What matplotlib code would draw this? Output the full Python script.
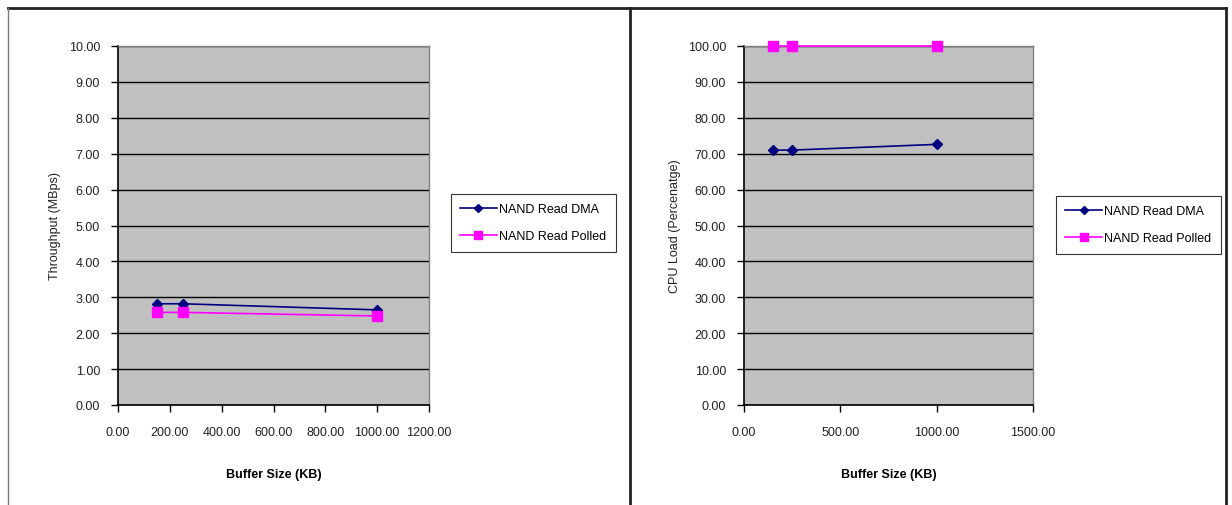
import matplotlib.pyplot as plt
from matplotlib.lines import Line2D

# ==============================
# Data
# ==============================

buffer_kb = [150, 250, 1000]

thr_dma = [2.82, 2.82, 2.65]
thr_polled = [2.58, 2.58, 2.48]

cpu_dma = [71.0, 71.0, 72.6]
cpu_polled = [100.0, 100.0, 100.0]

series_labels = ["NAND Read DMA", "NAND Read Polled"]

plt.rcParams['font.family'] = ['Liberation Sans', 'DejaVu Sans']

W, H = 1232, 506
fig = plt.figure(figsize=(W / 100, H / 100), dpi=100)


def px_rect(x0, x1, y_top, y_bot):
    return [x0 / W, 1 - y_bot / H, (x1 - x0) / W, (y_bot - y_top) / H]


def draw_panel(rect, dma, polled, xlim, xstep, ylim, ystep, ylabel, ylabel_x, leg_pos):
    ax = fig.add_axes(rect)
    ax.set_facecolor('#c0c0c0')
    ax.plot(buffer_kb, dma, color='#000080', marker='D', markersize=5,
            linewidth=1.2, label=series_labels[0], zorder=3, clip_on=False)
    ax.plot(buffer_kb, polled, color='#ff00ff', marker='s', markersize=7,
            linewidth=1.2, label=series_labels[1], zorder=3, clip_on=False)
    ax.set_xlim(*xlim)
    ax.set_ylim(*ylim)
    xt = [xlim[0] + i * xstep for i in range(int((xlim[1] - xlim[0]) / xstep) + 1)]
    yt = [ylim[0] + i * ystep for i in range(int((ylim[1] - ylim[0]) / ystep) + 1)]
    ax.set_xticks(xt)
    ax.set_yticks(yt)
    ax.set_xticklabels([f"{v:.2f}" for v in xt])
    ax.set_yticklabels([f"{v:.2f}" for v in yt])
    ax.yaxis.grid(True, color='black', linewidth=1.0)
    ax.set_axisbelow(True)
    ax.tick_params(axis='both', direction='out', length=5, width=1,
                   labelsize=9, colors='black', labelcolor='#222222')
    ax.tick_params(axis='x', pad=10)
    ax.tick_params(axis='y', pad=8)
    for s in ['left', 'bottom']:
        ax.spines[s].set_color('black')
        ax.spines[s].set_linewidth(1.2)
    for s in ['top', 'right']:
        ax.spines[s].set_color('#808080')
        ax.spines[s].set_linewidth(1.0)
    ax.set_xlabel("Buffer Size (KB)", fontsize=9, fontweight='bold', labelpad=22)
    fig.text(ylabel_x / W, 1 - 226 / H, ylabel, rotation=90, fontsize=9,
             ha='center', va='center', color='#222222')
    lx, ly = leg_pos
    leg = ax.legend(loc='upper left', bbox_to_anchor=(lx / W, 1 - ly / H),
                    bbox_transform=fig.transFigure, fontsize=9, frameon=True, fancybox=False,
                    handlelength=2.9, handletextpad=0.2, borderpad=0.75, labelspacing=1.2,
                    borderaxespad=0, markerscale=0.9)
    leg.get_frame().set_edgecolor('black')
    leg.get_frame().set_linewidth(0.8)
    return ax


draw_panel(px_rect(118, 429, 47, 406), thr_dma, thr_polled, (0, 1200), 200, (0, 10), 1,
           "Throughput (MBps)", 55, (451, 195))
draw_panel(px_rect(744, 1033, 47, 406), cpu_dma, cpu_polled, (0, 1500), 500, (0, 100), 10,
           "CPU Load (Percenatge)", 675, (1056, 197))

# panel borders
def fline(xs, ys, **kw):
    fig.add_artist(Line2D([x / W for x in xs], [1 - y / H for y in ys], **kw))

fline([8, 1226], [9, 9], color='#222222', linewidth=2)
fline([8, 8], [9, 506], color='#777777', linewidth=1)
fline([630, 630], [9, 506], color='#222222', linewidth=2)
fline([1226, 1226], [9, 506], color='#222222', linewidth=2)

fig.savefig('out.png', dpi=100)
